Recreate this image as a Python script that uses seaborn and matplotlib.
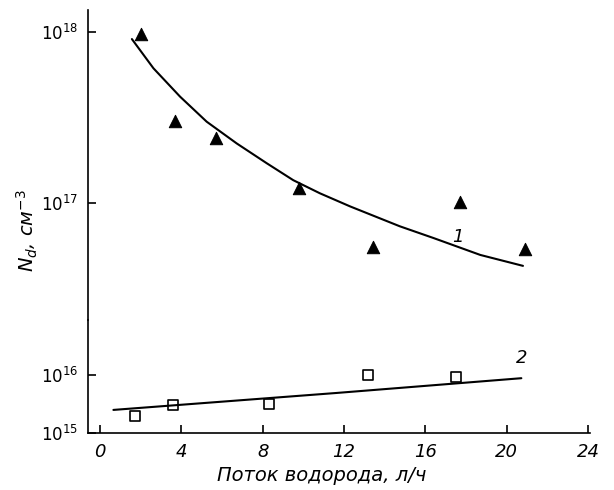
import numpy as np
import pandas as pd
import seaborn as sns
import matplotlib.pyplot as plt
from matplotlib.ticker import FixedLocator, FixedFormatter

sns.set_style('ticks')
plt.rcParams['font.family'] = ['DejaVu Sans']
plt.rcParams['mathtext.default'] = 'it'
plt.rcParams['text.color'] = 'black'
plt.rcParams['xtick.color'] = 'black'
plt.rcParams['ytick.color'] = 'black'
plt.rcParams['axes.edgecolor'] = 'black'

# experimental points, series 1 (triangles) and 2 (squares)
flow_1 = [2.0, 3.7, 5.7, 9.8, 13.4, 17.7, 20.9]
nd_1 = [9.8e17, 3.0e17, 2.4e17, 1.22e17, 5.5e16, 1.01e17, 5.4e16]
flow_2 = [1.7, 3.6, 8.3, 13.2, 17.5]
nd_2 = [2.0e15, 3.0e15, 3.1e15, 1.0e16, 9.3e15]

# fitted curves
fit_flow_1 = [1.56, 2.62, 3.93, 5.24, 6.72, 8.19, 9.5, 10.81, 12.3, 14.74,
              16.4, 18.7, 20.8]
fit_nd_1 = [9.1e17, 6.14e17, 4.19e17, 2.99e17, 2.23e17, 1.71e17, 1.36e17,
            1.14e17, 9.55e16, 7.31e16, 6.24e16, 4.97e16, 4.29e16]
fit_flow_2 = [0.65, 11.63, 20.72]
fit_nd_2 = [2.5e15, 4.9e15, 8.8e15]

x_ticks = [0, 4, 8, 12, 16, 20, 24]

df1 = pd.DataFrame({'flow': flow_1, 'nd': nd_1})
df2 = pd.DataFrame({'flow': flow_2, 'nd': nd_2})
fit1 = pd.DataFrame({'flow': fit_flow_1, 'nd': fit_nd_1})
fit2 = pd.DataFrame({'flow': fit_flow_2, 'nd': fit_nd_2})

fig = plt.figure(figsize=(6.14, 4.9), dpi=100)
ax_top = fig.add_axes([0.1433, 0.347, 0.8177, 0.6326])
ax_bot = fig.add_axes([0.1433, 0.1163, 0.8177, 0.2307], sharex=ax_top)

# upper part of broken axis
sns.lineplot(data=fit1, x='flow', y='nd', ax=ax_top, color='black', lw=1.5)
sns.scatterplot(data=df1, x='flow', y='nd', ax=ax_top, marker='^', s=80,
                color='black', edgecolor='black')
ax_top.set_yscale('log')
ax_top.set_ylim(2.07e16, 1.346e18)
ax_top.text(17.6, 6.3e16, '1', fontsize=13, style='italic', ha='center', va='center')

# lower part
sns.lineplot(data=fit2, x='flow', y='nd', ax=ax_bot, color='black', lw=1.5)
sns.scatterplot(data=df2, x='flow', y='nd', ax=ax_bot, marker='s', s=45,
                facecolor='white', edgecolor='black', linewidth=1.2)
ax_bot.set_yscale('log')
ax_bot.set_ylim(1e15, 8.87e16)
ax_bot.text(20.74, 1.95e16, '2', fontsize=13, style='italic', ha='center', va='center')

ax_bot.set_xlim(-0.6, 24.1)
ax_bot.xaxis.set_major_locator(FixedLocator(x_ticks))

for ax in (ax_top, ax_bot):
    ax.set_xlabel('')
    ax.set_ylabel('')
    ax.spines['top'].set_visible(False)
    ax.spines['right'].set_visible(False)
    ax.spines['left'].set_linewidth(1.2)
    ax.spines['bottom'].set_linewidth(1.2)
    ax.minorticks_off()
    ax.tick_params(direction='in', length=6, width=1.2, labelsize=12, pad=7)
    ax.patch.set_alpha(0)

ax_top.spines['bottom'].set_visible(False)
ax_top.tick_params(axis='x', bottom=False, labelbottom=False)

ax_top.yaxis.set_major_locator(FixedLocator([1e17, 1e18]))
ax_top.yaxis.set_major_formatter(FixedFormatter([r'$10^{17}$', r'$10^{18}$']))
ax_bot.yaxis.set_major_locator(FixedLocator([1e15, 1e16]))
ax_bot.yaxis.set_major_formatter(FixedFormatter([r'$10^{15}$', r'$10^{16}$']))
ax_bot.set_xticklabels([str(t) for t in x_ticks], style='italic', fontsize=13)

fig.text(0.045, 0.53, r'$N_d$, см$^{-3}$', rotation=90, fontsize=14,
         style='italic', ha='center', va='center')
fig.text(0.524, 0.03, 'Поток водорода, л/ч', fontsize=14, style='italic',
         ha='center', va='center')

fig.savefig('out.png', dpi=100)
